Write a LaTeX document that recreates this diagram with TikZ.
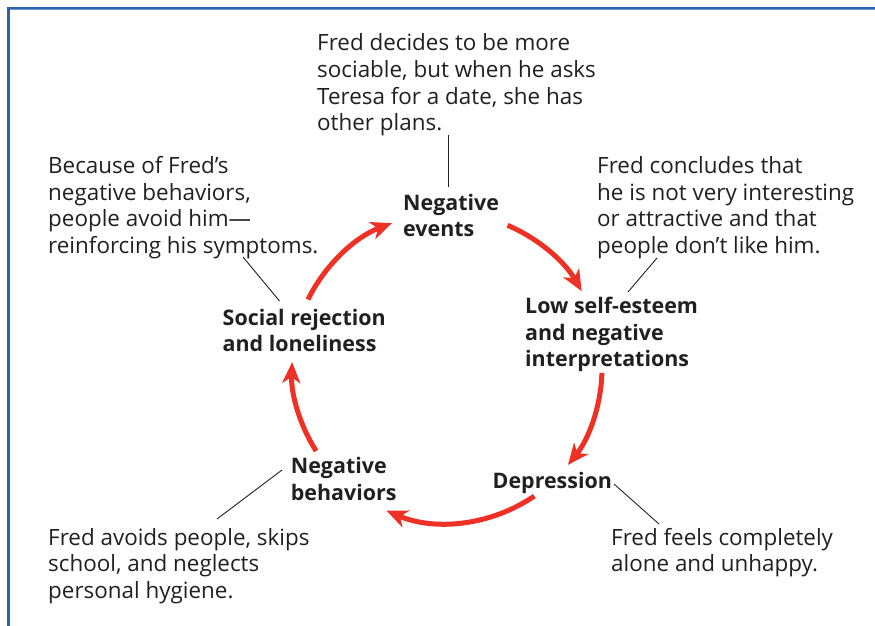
\documentclass[tikz,border=0pt]{standalone}
\usepackage{fontspec}
\setmainfont{Open Sans}
\usetikzlibrary{arrows.meta}
\definecolor{txt}{HTML}{231F20}
\definecolor{arrred}{HTML}{EE3124}
\definecolor{frameblue}{HTML}{2A62AC}
\definecolor{framelight}{HTML}{7098D4}
\begin{document}
\begin{tikzpicture}[x=1bp,y=-1bp,
  note/.style={anchor=base west, align=left, inner sep=0pt, text=txt,
    font=\fontsize{22.5}{26.7}\selectfont},
  stage/.style={anchor=base west, align=left, inner sep=0pt, text=txt,
    font=\bfseries\fontsize{21.5}{26.7}\selectfont},
  leader/.style={draw=txt, line width=0.9bp},
  cyc/.style={draw=arrred, line width=5bp,
    -{Stealth[length=21bp,width=18bp,inset=6bp]}}]
\useasboundingbox (0,0) rectangle (875,626);
% frame
\draw[frameblue, line width=2.5bp] (7,7.8) -- (875,7.8);
\draw[framelight, line width=1bp] (9.5,9.5) -- (875,9.5);
\draw[frameblue, line width=2.8bp] (8.3,6.6) -- (8.3,626);
% notes (anchor = baseline of last line)
\node[note] (tn) at (317,130.8) {Fred decides to be more\\sociable, but when he asks\\Teresa for a date, she has\\other plans.};
\node[note] (tl) at (48,253.4) {Because of Fred’s\\negative behaviors,\\people avoid him—\\reinforcing his symptoms.};
\node[note] (tr) at (597,253.4) {Fred concludes that\\he is not very interesting\\or attractive and that\\people don’t like him.};
\node[note] (bl) at (48,598.4) {Fred avoids people, skips\\school, and neglects\\personal hygiene.};
\node[note] (br) at (611,571.7) {Fred feels completely\\alone and unhappy.};
% stages
\node[stage] (ne) at (403,236.7) {Negative\\events};
\node[stage] (ls) at (525,366.7) {Low self-esteem\\and negative\\interpretations};
\node[stage] (dp) at (492.5,488.5) {Depression};
\node[stage] (nb) at (290.7,500) {Negative\\behaviors};
\node[stage] (sr) at (222.5,351.7) {Social rejection\\and loneliness};
% leaders
\coordinate (l1a) at (448.5,135); \coordinate (l1b) at (448.5,187);
\coordinate (l2a) at (243,257);   \coordinate (l2b) at (279.5,301);
\coordinate (l3a) at (657,258);   \coordinate (l3b) at (628,292);
\coordinate (l4a) at (282,470);   \coordinate (l4b) at (217,519);
\coordinate (l5a) at (614,484);   \coordinate (l5b) at (659,524);
\draw[leader] (l1a) -- (l1b);
\draw[leader] (l2a) -- (l2b);
\draw[leader] (l3a) -- (l3b);
\draw[leader] (l4a) -- (l4b);
\draw[leader] (l5a) -- (l5b);
% cycle arrows
\coordinate (cc) at (447,368);
\coordinate (a1) at ([shift={(-153.8:155)}]cc);
\coordinate (a2) at ([shift={(-67:155)}]cc);
\coordinate (a3) at ([shift={(1.8:155)}]cc);
\coordinate (a4) at ([shift={(55.7:155)}]cc);
\coordinate (a5) at ([shift={(-212.4:155)}]cc);
\draw[cyc] (a1) arc[start angle=-153.8, end angle=-110.8, radius=155];
\draw[cyc] (a2) arc[start angle=-67, end angle=-29.7, radius=155];
\draw[cyc] (a3) arc[start angle=1.8, end angle=38.7, radius=155];
\draw[cyc] (a4) arc[start angle=55.7, end angle=113, radius=155];
\draw[cyc] (a5) arc[start angle=-212.4, end angle=-177.8, radius=155];
\end{tikzpicture}
\end{document}
